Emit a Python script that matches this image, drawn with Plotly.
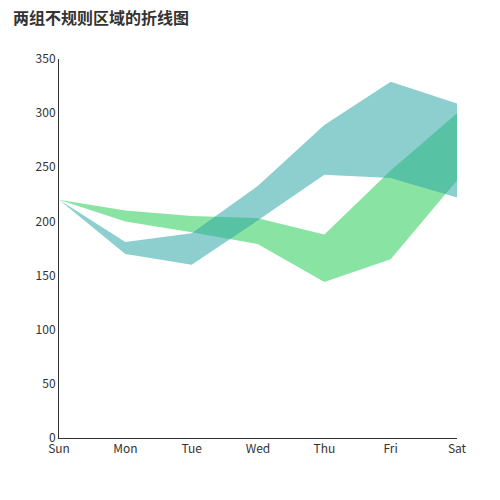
import plotly.graph_objects as go

days = ["Sun","Mon","Tue","Wed","Thu","Fri","Sat"]
teal_upper = [220,181,189,233,289,329,309]
teal_lower = [220,170,160,201,243,240,222]
green_upper = [220,210,205,203,188,247,300]
green_lower = [220,200,190,179,144,165,238]

idx = list(range(len(days)))
def poly(up, lo):
    return idx + idx[::-1], up + lo[::-1]

fig = go.Figure()
x, y = poly(green_upper, green_lower)
fig.add_trace(go.Scatter(x=x, y=y, fill="toself", mode="lines", line=dict(width=0),
                         fillcolor="rgba(40,205,90,0.55)", hoverinfo="skip"))
x, y = poly(teal_upper, teal_lower)
fig.add_trace(go.Scatter(x=x, y=y, fill="toself", mode="lines", line=dict(width=0),
                         fillcolor="rgba(48,165,166,0.55)", hoverinfo="skip"))

fig.update_layout(
    width=500, height=500, showlegend=False,
    paper_bgcolor="white", plot_bgcolor="white",
    margin=dict(l=51, r=51, t=51, b=70),
    font=dict(family="Noto Sans CJK SC", size=12, color="#333"),
    title=dict(text="<b>两组不规则区域的折线图</b>", x=0.01, xanchor="left", y=0.99, yanchor="top",
               font=dict(size=16, color="#333")),
    xaxis=dict(range=[0, 6], tickvals=idx, ticktext=days, showgrid=False, zeroline=False,
               showline=True, linecolor="#333", ticks="", tickfont=dict(color="#333")),
    yaxis=dict(range=[0, 350], dtick=50, showgrid=False, zeroline=False,
               showline=True, linecolor="#333", ticks="", tickfont=dict(color="#333")),
)
fig.write_html("out.html")
